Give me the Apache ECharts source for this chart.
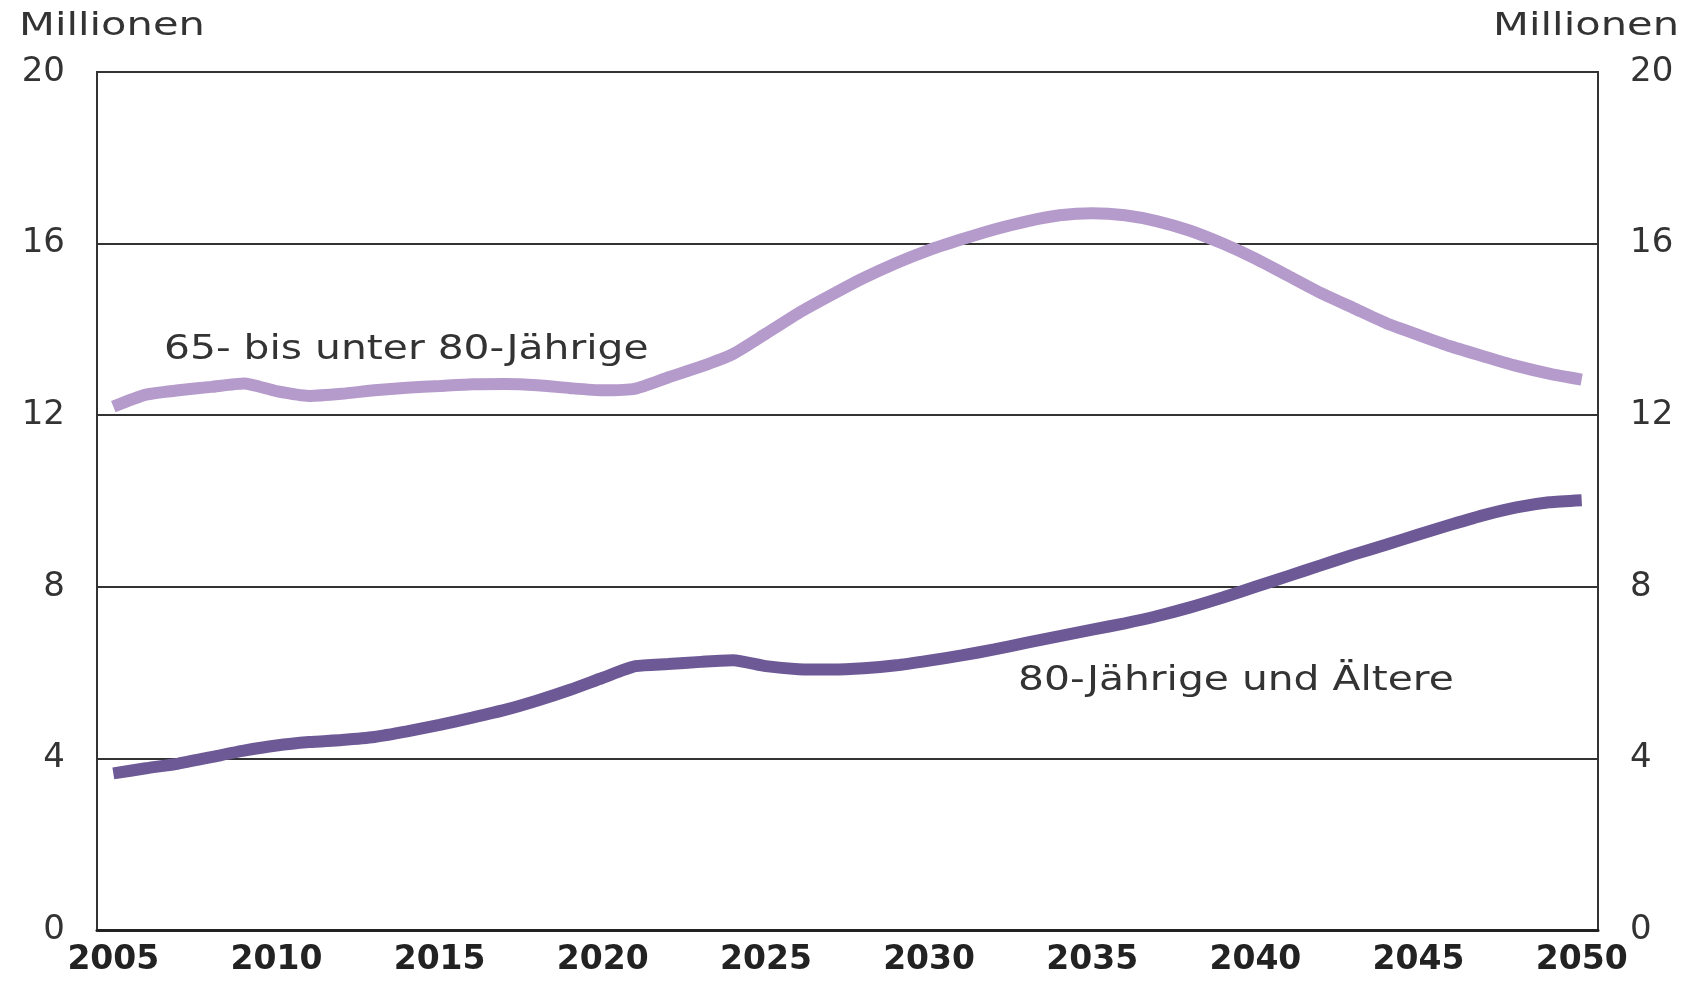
<!DOCTYPE html>
<html>
<head>
<meta charset="utf-8">
<script src="https://cdn.jsdelivr.net/npm/echarts@6/dist/echarts.min.js"></script>
<style>
  html, body { margin: 0; padding: 0; background: #fff; }
  #chart { width: 1692px; height: 981px; }
</style>
</head>
<body>
<div id="chart"></div>
<script>
  let years = []
  for (let y = 2005; y <= 2050; y++) years.push(String(y))
  // 65- bis unter 80-Jährige (Millionen)
  let age65to80 = [12.2, 12.48, 12.58, 12.66, 12.74, 12.56, 12.45, 12.5, 12.58, 12.64,
    12.68, 12.72, 12.73, 12.7, 12.63, 12.58, 12.62, 12.88, 13.13, 13.43,
    13.9, 14.38, 14.8, 15.2, 15.55, 15.85, 16.1, 16.33, 16.52, 16.66,
    16.71, 16.66, 16.52, 16.3, 16.0, 15.65, 15.25, 14.85, 14.5, 14.15,
    13.87, 13.6, 13.37, 13.15, 12.97, 12.83]
  // 80-Jährige und Ältere (Millionen)
  let age80plus = [3.65, 3.77, 3.88, 4.03, 4.18, 4.3, 4.38, 4.43, 4.5, 4.63,
    4.78, 4.95, 5.13, 5.35, 5.6, 5.88, 6.15, 6.2, 6.25, 6.29,
    6.15, 6.08, 6.07, 6.1, 6.17, 6.28, 6.4, 6.54, 6.7, 6.85,
    7.0, 7.15, 7.32, 7.52, 7.75, 8.0, 8.25, 8.5, 8.75, 8.98,
    9.22, 9.45, 9.67, 9.85, 9.97, 10.02]
  let seriesNames = ['65- bis unter 80-Jährige', '80-Jährige und Ältere']
  let unitLabel = 'Millionen'

  let font = 'DejaVu Sans'
  let yLabel = { color: '#333', fontSize: 34, fontFamily: font, margin: 32 }

  // the original text is drawn wider than normal, so stretch the free texts a bit
  function note (text, x, y, size, stretch, align) {
    return {
      type: 'text', x: x, y: y, scaleX: stretch,
      style: { text: text, font: size + 'px "DejaVu Sans"', fill: '#333', align: align || 'left', verticalAlign: 'middle' }
    }
  }

  let option = {
    backgroundColor: '#fff',
    animation: false,
    grid: {
      left: 97, right: 94, top: 72, bottom: 51,
      show: true,
      borderColor: '#333',
      borderWidth: 2
    },
    xAxis: {
      type: 'category',
      data: years,
      boundaryGap: true,
      axisLine: { lineStyle: { color: '#222', width: 3 } },
      axisTick: { interval: 0, length: 12, lineStyle: { color: '#222', width: 2 } },
      axisLabel: { interval: 4, color: '#222', fontSize: 33, fontWeight: 'bold', fontFamily: font, margin: 14 },
      splitLine: { show: false }
    },
    yAxis: [{
      type: 'value',
      min: 0, max: 20, interval: 4,
      axisLine: { show: false },
      axisTick: { show: false },
      axisLabel: yLabel,
      splitLine: { lineStyle: { color: '#333', width: 2 } }
    }, {
      type: 'value',
      position: 'right',
      min: 0, max: 20, interval: 4,
      axisLine: { show: false },
      axisTick: { show: false },
      axisLabel: yLabel,
      splitLine: { show: false }
    }],
    graphic: [
      note(unitLabel, 19, 27, 32, 1.3),
      note(unitLabel, 1679, 27, 32, 1.3, 'right'),
      note(seriesNames[0], 164, 350, 34, 1.2),
      note(seriesNames[1], 1018, 681, 34, 1.2)
    ],
    series: [{
      name: seriesNames[0],
      type: 'line',
      data: age65to80,
      symbol: 'none',
      smooth: 0.2,
      lineStyle: { color: '#b59bcb', width: 12 }
    }, {
      name: seriesNames[1],
      type: 'line',
      data: age80plus,
      symbol: 'none',
      smooth: 0.2,
      lineStyle: { color: '#6d5996', width: 12 }
    }]
  }
  let myChart = echarts.init(document.getElementById('chart'))
  myChart.setOption(option)
</script>
</body>
</html>
